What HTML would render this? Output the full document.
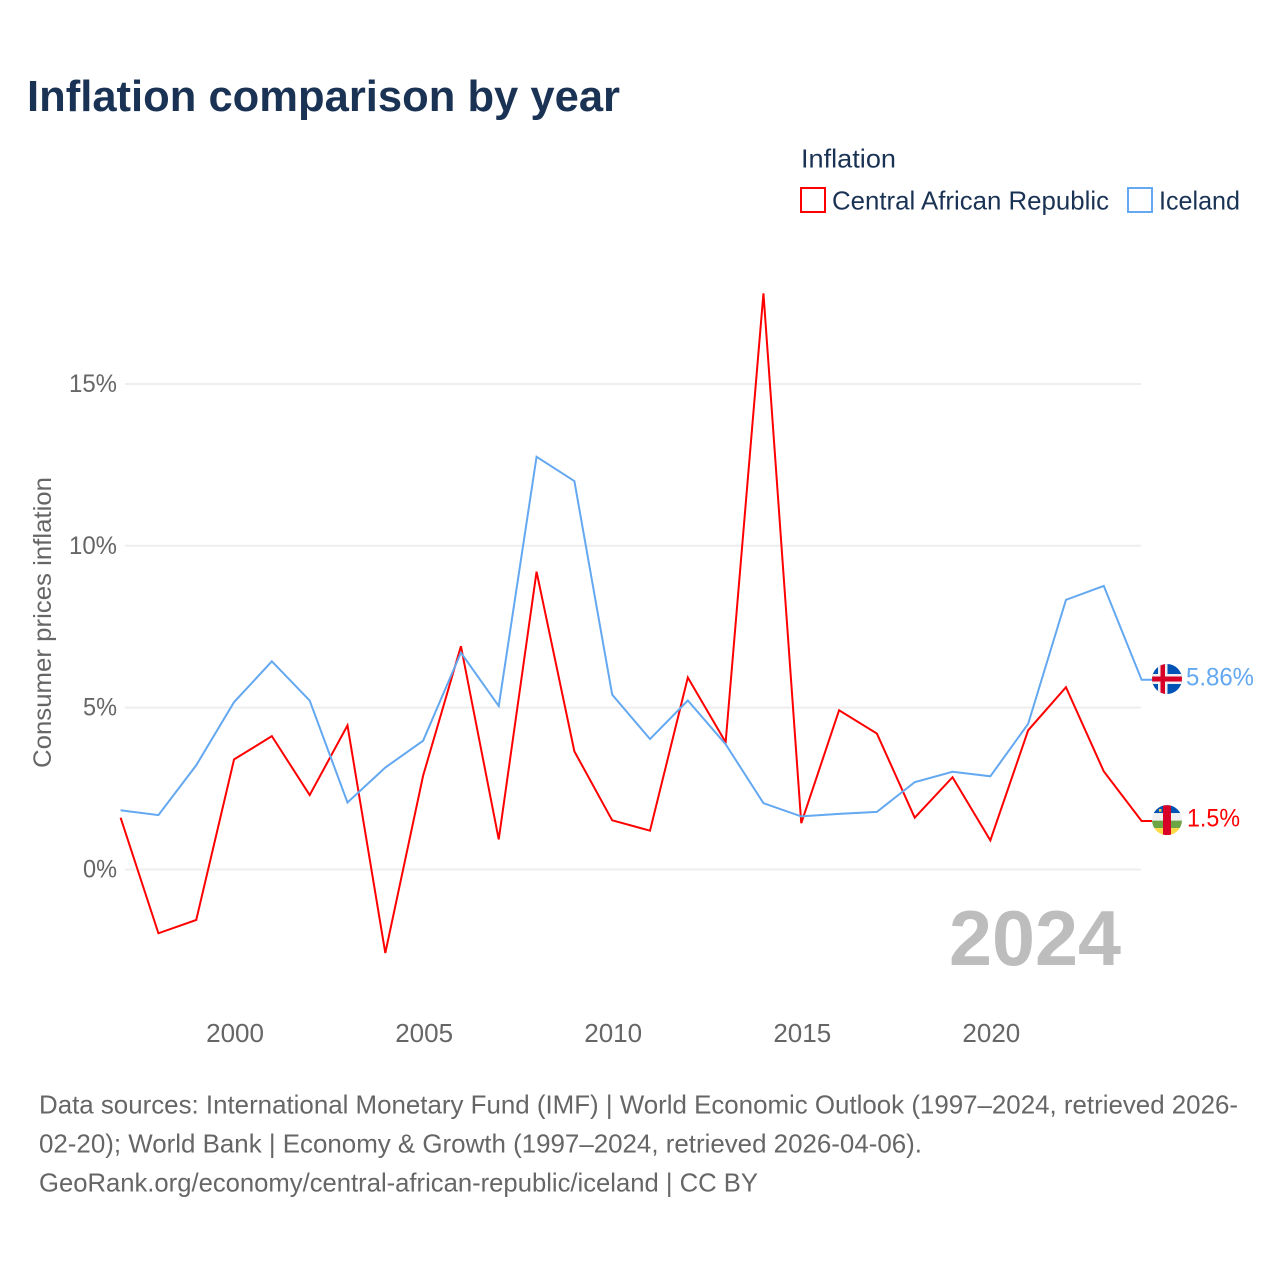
<!DOCTYPE html>
<html lang="en">
<head>
<meta charset="utf-8">
<title>Inflation comparison by year</title>
<style>
html,body{margin:0;padding:0;background:#fff;width:1280px;height:1280px;overflow:hidden}
svg{display:block}
text{font-family:"Liberation Sans",sans-serif}
</style>
</head>
<body>
<svg id="chart" xmlns="http://www.w3.org/2000/svg" width="1280" height="1280" viewBox="0 0 1280 1280">
  <defs>
    <clipPath id="flag-clip"><circle cx="0" cy="0" r="15"/></clipPath>
  </defs>
  <text x="27" y="111" font-size="44" font-weight="700" fill="#1a3355" textLength="593" lengthAdjust="spacingAndGlyphs">Inflation comparison by year</text>

  <text x="801" y="167.5" font-size="26" fill="#1a3355" textLength="95" lengthAdjust="spacingAndGlyphs">Inflation</text>
  <g>
    <rect x="801" y="188" width="24" height="24" fill="none" stroke="#ff0000" stroke-width="2"/>
    <text x="832" y="209.5" font-size="26" fill="#1a3355" textLength="277" lengthAdjust="spacingAndGlyphs">Central African Republic</text>
  </g>
  <g>
    <rect x="1128" y="188" width="24" height="24" fill="none" stroke="#63a8f0" stroke-width="2"/>
    <text x="1159" y="209.5" font-size="26" fill="#1a3355" textLength="81" lengthAdjust="spacingAndGlyphs">Iceland</text>
  </g>

  <text transform="translate(51,768) rotate(-90)" font-size="25" fill="#666666" textLength="291" lengthAdjust="spacingAndGlyphs">Consumer prices inflation</text>

  <g id="grid"></g>
  <g id="y-ticks"></g>
  <g id="x-ticks"></g>

  <text x="949" y="965" font-size="78" font-weight="700" fill="#bdbdbd" textLength="172" lengthAdjust="spacingAndGlyphs">2024</text>

  <g id="series"></g>

  <g id="flag-iceland">
    <g clip-path="url(#flag-clip)">
      <rect x="-15" y="-15" width="30" height="30" fill="#0052b4"/>
      <rect x="-9" y="-15" width="9.5" height="30" fill="#f0f0f0"/>
      <rect x="-15" y="-5" width="30" height="10" fill="#f0f0f0"/>
      <rect x="-6.5" y="-15" width="4.5" height="30" fill="#d80027"/>
      <rect x="-15" y="-2.5" width="30" height="5" fill="#d80027"/>
    </g>
  </g>
  <g id="flag-car">
    <g clip-path="url(#flag-clip)">
      <rect x="-15" y="-15" width="30" height="8" fill="#0052b4"/>
      <rect x="-15" y="-7" width="30" height="7.5" fill="#f0f0f0"/>
      <rect x="-15" y="0.5" width="30" height="7.5" fill="#6da544"/>
      <rect x="-15" y="8" width="30" height="7" fill="#ffda44"/>
      <rect x="-4" y="-15" width="8" height="30" fill="#d80027"/>
      <rect x="-8" y="-11" width="2.5" height="2.5" fill="#ffda44"/>
    </g>
  </g>
  <text id="value-iceland" x="1186" font-size="25" fill="#63a8f0" textLength="68" lengthAdjust="spacingAndGlyphs"></text>
  <text id="value-car" x="1187" font-size="25" fill="#ff0000" textLength="53" lengthAdjust="spacingAndGlyphs"></text>

  <g font-size="26" fill="#666666">
    <text x="39" y="1113.5" textLength="1199" lengthAdjust="spacingAndGlyphs">Data sources: International Monetary Fund (IMF) | World Economic Outlook (1997–2024, retrieved 2026-</text>
    <text x="39" y="1152.5" textLength="883" lengthAdjust="spacingAndGlyphs">02-20); World Bank | Economy &amp; Growth (1997–2024, retrieved 2026-04-06).</text>
    <text x="39" y="1191.5" textLength="719" lengthAdjust="spacingAndGlyphs">GeoRank.org/economy/central-african-republic/iceland | CC BY</text>
  </g>
</svg>
<script>
var years = [1997,1998,1999,2000,2001,2002,2003,2004,2005,2006,2007,2008,2009,2010,2011,2012,2013,2014,2015,2016,2017,2018,2019,2020,2021,2022,2023,2024];
var carValues = [1.6,-1.97,-1.56,3.4,4.12,2.3,4.45,-2.58,2.9,6.9,0.93,9.2,3.65,1.52,1.2,5.93,3.93,17.8,1.43,4.92,4.2,1.6,2.85,0.9,4.3,5.63,3.03,1.5];
var icelandValues = [1.83,1.68,3.22,5.17,6.43,5.22,2.07,3.15,3.98,6.7,5.05,12.75,12,5.4,4.03,5.22,3.87,2.05,1.64,1.72,1.78,2.7,3.02,2.88,4.5,8.33,8.76,5.86];
var yTickValues = [0,5,10,15];
var xTickValues = [2000,2005,2010,2015,2020];

var NS = 'http://www.w3.org/2000/svg';
function xScale(year){ return 120.6 + (year - 1997) * (1141.6 - 120.6) / 27; }
function yScale(v){ return 869.5 - v * 32.37; }
function make(tag, parent, attrs){
  var el = document.createElementNS(NS, tag);
  for (var k in attrs) el.setAttribute(k, attrs[k]);
  parent.appendChild(el);
  return el;
}
var grid = document.getElementById('grid');
var yTicks = document.getElementById('y-ticks');
var xTicks = document.getElementById('x-ticks');
var series = document.getElementById('series');

yTickValues.forEach(function(v){
  var line = make('line', grid, {x1:125, x2:1141, y1:yScale(v), y2:yScale(v), stroke:'#eeeeee', 'stroke-width':2});
  
  
  var label = v + '%';
  var t = make('text', yTicks, {x:117, y:yScale(v)+8, 'font-size':25, fill:'#666666', 'text-anchor':'end', textLength:label.length === 3 ? 48 : 34, lengthAdjust:'spacingAndGlyphs'});
  
  
  t.textContent = label;
});
xTickValues.forEach(function(y){
  var t = make('text', xTicks, {x:xScale(y)+1, y:1042, 'font-size':26, fill:'#666666', 'text-anchor':'middle'});
  
  
  t.textContent = y;
});
function drawSeries(values, color){
  var pts = values.map(function(v,i){ return xScale(years[i]) + ',' + yScale(v); });
  var last = values[values.length-1];
  pts.push('1152,' + yScale(last));
  return make('polyline', series, {points:pts.join(' '), fill:'none', stroke:color, 'stroke-width':2, 'stroke-linejoin':'miter'});
}
var carLine = drawSeries(carValues, '#ff0000');


var iceLine = drawSeries(icelandValues, '#63a8f0');



var iceEnd = icelandValues[icelandValues.length-1];
var carEnd = carValues[carValues.length-1];
document.getElementById('flag-iceland').setAttribute('transform', 'translate(1167,' + (yScale(iceEnd) - 0.8) + ')');
document.getElementById('flag-car').setAttribute('transform', 'translate(1167,' + (yScale(carEnd) - 0.8) + ')');
var vi = document.getElementById('value-iceland');
vi.setAttribute('y', yScale(iceEnd) + 5.5);
vi.textContent = iceEnd + '%';
var vc = document.getElementById('value-car');
vc.setAttribute('y', yScale(carEnd) + 5.5);
vc.textContent = carEnd + '%';
</script>
</body>
</html>
